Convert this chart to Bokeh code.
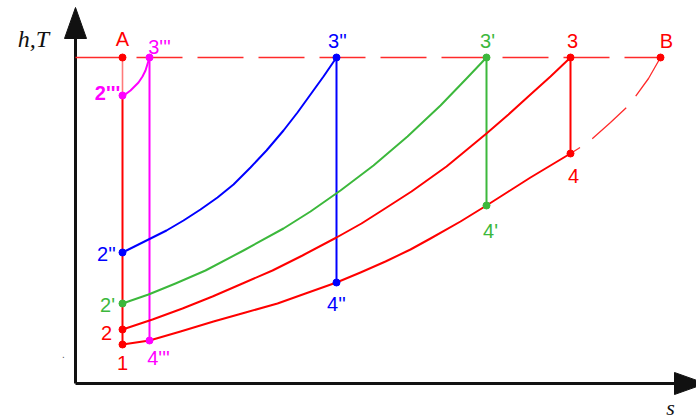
from bokeh.plotting import figure
from bokeh.models import Range1d
from bokeh.core.properties import value
from bokeh.embed import file_html
from bokeh.resources import INLINE

# ---------------- data (entropy s, enthalpy h; origin at axes corner) ----------------
# state points
pt_names = ["A", "B", "1", "2", "2'", "2''", "2'''", "3", "3'", "3''", "3'''", "4", "4'", "4''", "4'''"]
pt_s = [47, 585, 47, 47, 47, 47, 47, 495, 411, 261, 74, 495, 411, 261, 74]
pt_h = [326, 326, 39, 54, 80, 131, 288, 326, 326, 326, 326, 230, 178, 101, 43]

# low-pressure isobar 1 - 4''' - 4'' - 4' - 4
low_s = [47, 74, 105, 138, 170, 202, 230, 261, 285, 310, 335, 355, 385, 411, 433, 455, 475, 495]
low_h = [39, 43, 52, 62, 71, 80, 90, 101, 111, 122, 134, 145, 162, 178, 192, 206, 218, 230]
# extension of the low isobar 4 -> B (thin dashed)
ext_s = [585, 573, 560, 551, 535, 517, 503, 495]
ext_h = [326, 305, 287, 276, 261, 245, 235, 230]
# isobar 2 -> 3
p2_s = [47, 77, 107, 137, 167, 197, 227, 261, 286, 308, 336, 371, 388, 411, 433, 455, 475, 495]
p2_h = [54, 64, 75, 87, 100, 113, 128, 146, 160, 174, 192, 217, 231, 250, 269, 289, 307, 326]
# isobar 2' -> 3'
p2a_s = [47, 73, 100, 130, 168, 208, 235, 265, 298, 332, 365, 392, 411]
p2a_h = [80, 89, 100, 113, 133, 155, 172, 193, 218, 247, 278, 306, 326]
# isobar 2'' -> 3''
p2b_s = [47, 61, 75, 91, 108, 125, 142, 158, 175, 191, 208, 222, 235, 248, 261]
p2b_h = [131, 138, 145, 153, 163, 174, 186, 199, 216, 233, 253, 271, 289, 307, 326]
# isobar 2''' -> 3'''
p2c_s = [47, 51, 55, 59, 63, 67, 70, 74]
p2c_h = [288, 290, 293, 297, 301, 307, 313, 326]

# max temperature line A -> B
tmax_h = 326

# ---------------- layout / style ----------------
RED = "#ff0000"
BLUE = "#0000ff"
GREEN = "#3cb83c"
MAG = "#ff00ff"
DASH_RED = "#ff2a2a"
AXIS = "#111111"

pt_colors = [RED, RED, RED, RED, GREEN, BLUE, MAG, RED, GREEN, BLUE, MAG, RED, GREEN, BLUE, MAG]
lbl_dx = [0, 6, 0, -16, -15, -16, -15, 2, 1, 1, 10, 3, 4, 0, 9]
lbl_dy = [-19, -17, 18, 3, 1, 1, -3, -17, -17, -17, -11, 22, 25, 21, 17]
lbl_style = ["normal"] * 6 + ["bold"] + ["normal"] * 8

p = figure(width=696, height=420, output_backend="svg", toolbar_location=None,
           x_range=Range1d(-75, 621), y_range=Range1d(-37, 383),
           min_border=0, min_border_left=0, min_border_right=0,
           min_border_top=0, min_border_bottom=0)
p.axis.visible = False
p.grid.visible = False
p.outline_line_color = None
p.background_fill_color = "white"
p.border_fill_color = "white"

# axes with arrows
s_tip, h_tip = 630, 376
head_len, head_hw = 31, 11
p.line([0, 0], [0, h_tip - head_len + 2], line_color=AXIS, line_width=3)
p.line([0, s_tip - head_len + 2], [0, 0], line_color=AXIS, line_width=3)
p.patch([-head_hw, 0, head_hw], [h_tip - head_len, h_tip, h_tip - head_len],
        fill_color=AXIS, line_color=AXIS, line_width=1)
p.patch([s_tip - head_len, s_tip, s_tip - head_len], [-head_hw, 0, head_hw],
        fill_color=AXIS, line_color=AXIS, line_width=1)


def idx(n):
    return pt_names.index(n)


# dashed lines
p.line([0, pt_s[idx("B")]], [tmax_h, tmax_h], line_color=DASH_RED, line_width=1.5, line_dash="46 15")
p.line(ext_s, ext_h, line_color=DASH_RED, line_width=1.3, line_dash="46 15")

# vertical lines
p.line([pt_s[idx("A")], pt_s[idx("2'''")]], [pt_h[idx("A")], pt_h[idx("2'''")]],
       line_color="#ff7a7a", line_width=1.6)
p.line([pt_s[idx("2'''")], pt_s[idx("1")]], [pt_h[idx("2'''")], pt_h[idx("1")]],
       line_color=RED, line_width=2)
for top, bot, col in [("3'''", "4'''", MAG), ("3''", "4''", BLUE), ("3'", "4'", GREEN), ("3", "4", RED)]:
    p.line([pt_s[idx(top)], pt_s[idx(bot)]], [pt_h[idx(top)], pt_h[idx(bot)]],
           line_color=col, line_width=2)

# isobars
p.line(low_s, low_h, line_color=RED, line_width=2, line_join="round")
p.line(p2_s, p2_h, line_color=RED, line_width=2, line_join="round")
p.line(p2a_s, p2a_h, line_color=GREEN, line_width=2, line_join="round")
p.line(p2b_s, p2b_h, line_color=BLUE, line_width=2, line_join="round")
p.line(p2c_s, p2c_h, line_color=MAG, line_width=2, line_join="round")

# points
p.scatter(pt_s, pt_h, size=7, fill_color=pt_colors, line_color=pt_colors)

# labels
p.text(x=pt_s, y=pt_h, text=pt_names, x_offset=lbl_dx, y_offset=lbl_dy,
       text_color=pt_colors, text_font=value("Liberation Sans"), text_font_size="20px",
       text_font_style=lbl_style, text_align="center", text_baseline="middle")

# axis titles
p.text(x=[0], y=[h_tip], text=["h,T"], x_offset=[-42], y_offset=[31],
       text_font=value("Liberation Serif"), text_font_style="italic", text_font_size="24px",
       text_color="#111111", text_align="center", text_baseline="middle")
p.text(x=[s_tip], y=[0], text=["s"], x_offset=[-35], y_offset=[24],
       text_font=value("Liberation Serif"), text_font_style="italic", text_font_size="22px",
       text_color="#111111", text_align="center", text_baseline="middle")
p.text(x=[0], y=[0], text=["."], x_offset=[-12], y_offset=[-30],
       text_font=value("Liberation Sans"), text_font_size="10px",
       text_color="#555555", text_align="center", text_baseline="middle")

open("out.html", "w").write(file_html(p, INLINE))
